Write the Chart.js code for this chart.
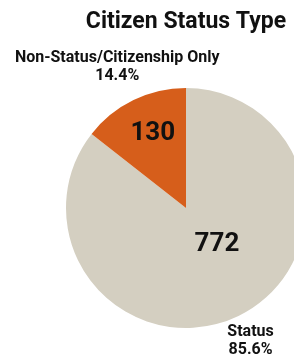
<!DOCTYPE html>
<html>
<head>
<meta charset="utf-8">
<script src="https://cdn.jsdelivr.net/npm/chart.js@4/dist/chart.umd.min.js"></script>
<style>
  html, body { margin: 0; padding: 0; background: #ffffff; overflow: hidden; }
  #wrap { width: 356px; height: 360px; }
</style>
</head>
<body>
<div id="wrap"><canvas id="c" width="356" height="360"></canvas></div>
<script>
// data
const categories = ['Status', 'Non-Status/Citizenship Only']
const counts = [772, 130]
const sliceColors = ['#d4cfc1', '#d65e1b']

const FONT = 'Roboto, Inter, sans-serif'

// labels: count inside slice, name + percent outside
const sliceLabels = {
    id: 'sliceLabels',
    afterDatasetsDraw(chart) {
        const ctx = chart.ctx
        const meta = chart.getDatasetMeta(0)
        const total = counts.reduce((a, b) => a + b, 0)
        ctx.save()
        ctx.fillStyle = '#111111'
        ctx.textAlign = 'center'
        ctx.textBaseline = 'middle'
        meta.data.forEach((arc, i) => {
            const p = arc.getProps(['x', 'y', 'startAngle', 'endAngle', 'outerRadius'], true)
            const mid = (p.startAngle + p.endAngle) / 2
            const R = p.outerRadius

            // value inside
            const big = counts[i] / total > 0.5
            const ang = big ? mid - 0.27 : mid + 0.04
            const rIn = big ? R * 0.39 : R * 0.69
            ctx.font = 'bold 26px ' + FONT
            ctx.fillText(String(counts[i]), p.x + Math.cos(ang) * rIn, p.y + Math.sin(ang) * rIn + 1)

            // name + percentage outside
            const rOut = big ? R * 1.23 : R * 1.31
            const ox = p.x + Math.cos(mid) * rOut
            const oy = p.y + Math.sin(mid) * rOut
            const pct = (counts[i] / total * 100).toFixed(1) + '%'
            ctx.font = 'bold 16px ' + FONT
            ctx.fillText(categories[i], ox, oy - 9)
            ctx.fillText(pct, ox, oy + 9)
        })
        ctx.restore()
    }
}

new Chart(document.getElementById('c'), {
    type: 'pie',
    data: {
        labels: categories,
        datasets: [{
            data: counts,
            backgroundColor: sliceColors,
            borderWidth: 0
        }]
    },
    options: {
        responsive: false,
        animation: false,
        layout: {
            padding: { left: 66, right: 50, top: 0, bottom: 32 }
        },
        plugins: {
            legend: { display: false },
            tooltip: { enabled: false },
            title: {
                display: true,
                text: 'Citizen Status Type',
                color: '#111111',
                font: { family: FONT, size: 23, weight: 'bold', lineHeight: 1.2 },
                padding: { top: 8, bottom: 52.4 }
            }
        }
    },
    plugins: [sliceLabels]
})
</script>
</body>
</html>
